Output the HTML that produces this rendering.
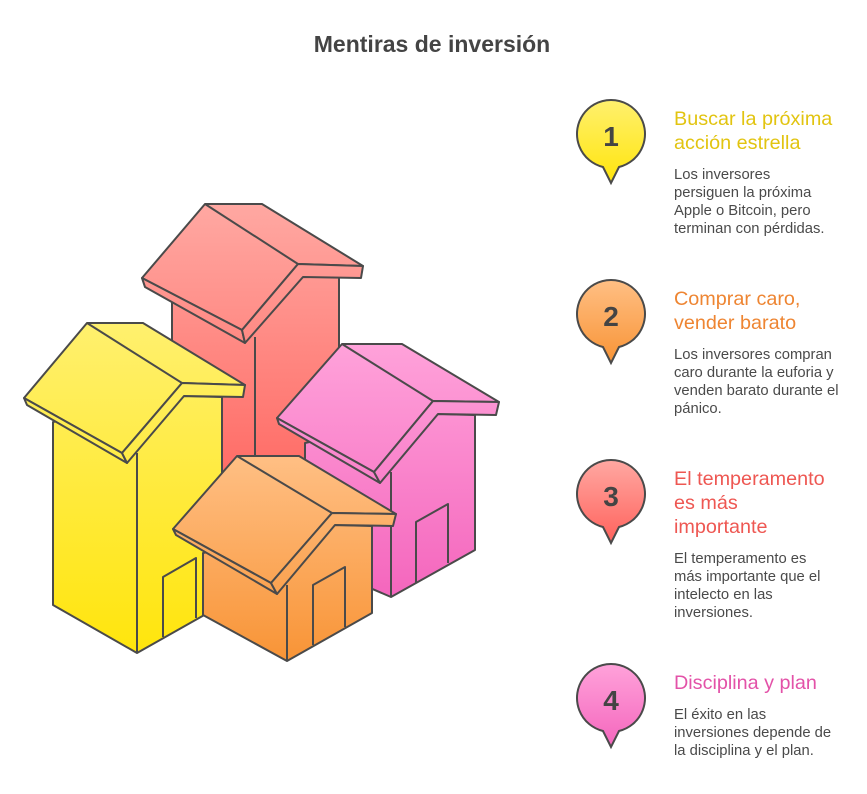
<!DOCTYPE html>
<html><head><meta charset="utf-8"><style>
body{margin:0;background:#fff;width:867px;height:789px;overflow:hidden;font-family:"Liberation Sans",sans-serif}
</style></head><body>
<svg width="867" height="789" viewBox="0 0 867 789" xmlns="http://www.w3.org/2000/svg">
<defs>
<linearGradient id="gy" gradientUnits="userSpaceOnUse" x1="0" y1="323" x2="0" y2="653"><stop offset="0" stop-color="#fff06e"/><stop offset="1" stop-color="#ffe50c"/></linearGradient>
<linearGradient id="gr" gradientUnits="userSpaceOnUse" x1="0" y1="204" x2="0" y2="520"><stop offset="0" stop-color="#ffa8a2"/><stop offset="1" stop-color="#ff625c"/></linearGradient>
<linearGradient id="gp" gradientUnits="userSpaceOnUse" x1="0" y1="344" x2="0" y2="597"><stop offset="0" stop-color="#ffa2da"/><stop offset="1" stop-color="#f466bd"/></linearGradient>
<linearGradient id="go" gradientUnits="userSpaceOnUse" x1="0" y1="456" x2="0" y2="661"><stop offset="0" stop-color="#ffbf84"/><stop offset="1" stop-color="#f89436"/></linearGradient>
<linearGradient id="my" x1="0" y1="0" x2="0" y2="1"><stop offset="0" stop-color="#fff06e"/><stop offset="1" stop-color="#ffe50c"/></linearGradient>
<linearGradient id="mr" x1="0" y1="0" x2="0" y2="1"><stop offset="0" stop-color="#ffa8a2"/><stop offset="1" stop-color="#ff625c"/></linearGradient>
<linearGradient id="mp" x1="0" y1="0" x2="0" y2="1"><stop offset="0" stop-color="#ffa2da"/><stop offset="1" stop-color="#f466bd"/></linearGradient>
<linearGradient id="mo" x1="0" y1="0" x2="0" y2="1"><stop offset="0" stop-color="#ffbf84"/><stop offset="1" stop-color="#f89436"/></linearGradient>
</defs>
<text x="432" y="52" text-anchor="middle" font-size="23" font-weight="bold" fill="#444">Mentiras de inversión</text>
<g stroke="#4a4a4a" stroke-width="2" stroke-linejoin="round">
<g fill="url(#gr)">
<polygon points="172,302 172,520 255,560 339,520 339,277 303,277"/>
<line x1="255" y1="337" x2="255" y2="540"/>
<polygon points="142,278 205,204 262,204 363,266 298,264 242,330"/>
<line x1="205" y1="204" x2="298" y2="264"/>
<polygon points="142,278 242,330 245,343 145,287"/>
<polygon points="298,264 363,266 361,278 303,277 245,343 242,330"/>
</g>
<g fill="url(#gy)">
<polygon points="53,422 53,605 137,653 222,605 222,397 184,396"/>
<line x1="137" y1="453" x2="137" y2="653"/>
<polyline points="163,637 163,577 196,558 196,618" fill="none"/>
<polygon points="24,398 87,323 143,323 245,385 182,383 122,453"/>
<line x1="87" y1="323" x2="182" y2="383"/>
<polygon points="24,398 122,453 127,463 27,405"/>
<polygon points="182,383 245,385 243,397 184,396 127,463 122,453"/>
</g>
<g fill="url(#gp)">
<polygon points="305,443 305,560 391,597 475,550 475,415 438,414"/>
<line x1="391" y1="472" x2="391" y2="597"/>
<polyline points="416,583 416,522 448,504 448,563" fill="none"/>
<polygon points="277,418 342,344 402,344 499,402 433,401 374,472"/>
<line x1="342" y1="344" x2="433" y2="401"/>
<polygon points="277,418 374,472 380,483 279,424"/>
<polygon points="433,401 499,402 496,415 438,414 380,483 374,472"/>
</g>
<g fill="url(#go)">
<polygon points="203,553 203,615 287,661 372,613 372,526 335,525"/>
<line x1="287" y1="585" x2="287" y2="661"/>
<polyline points="313,645 313,585 345,567 345,627" fill="none"/>
<polygon points="173,529 237,456 299,456 396,514 332,513 271,583"/>
<line x1="237" y1="456" x2="332" y2="513"/>
<polygon points="173,529 271,583 277,594 176,535"/>
<polygon points="332,513 396,514 393,526 335,525 277,594 271,583"/>
</g>
</g>
<g stroke="#4a4a4a" stroke-width="2">
<path d="M603,167 A34,34 0 1 1 619,167 L611,183 Z" fill="url(#my)"/>
<path d="M603,347 A34,34 0 1 1 619,347 L611,363 Z" fill="url(#mo)"/>
<path d="M603,527 A34,34 0 1 1 619,527 L611,543 Z" fill="url(#mr)"/>
<path d="M603,731 A34,34 0 1 1 619,731 L611,747 Z" fill="url(#mp)"/>
</g>
<g font-size="28" font-weight="bold" fill="#444" text-anchor="middle">
<text x="611" y="146">1</text><text x="611" y="326">2</text><text x="611" y="506">3</text><text x="611" y="710">4</text>
</g>
<g font-size="19.8">
<text x="674" y="125" fill="#e2c410">Buscar la próxima</text>
<text x="674" y="149" fill="#e2c410">acción estrella</text>
<text x="674" y="305" fill="#ee8532">Comprar caro,</text>
<text x="674" y="329" fill="#ee8532">vender barato</text>
<text x="674" y="485" fill="#ee5752">El temperamento</text>
<text x="674" y="509" fill="#ee5752">es más</text>
<text x="674" y="533" fill="#ee5752">importante</text>
<text x="674" y="689" fill="#e352a8">Disciplina y plan</text>
</g>
<g font-size="14.8" fill="#4a4a4a">
<text x="674" y="179">Los inversores</text>
<text x="674" y="197">persiguen la próxima</text>
<text x="674" y="215">Apple o Bitcoin, pero</text>
<text x="674" y="233">terminan con pérdidas.</text>
<text x="674" y="359">Los inversores compran</text>
<text x="674" y="377">caro durante la euforia y</text>
<text x="674" y="395">venden barato durante el</text>
<text x="674" y="413">pánico.</text>
<text x="674" y="563">El temperamento es</text>
<text x="674" y="581">más importante que el</text>
<text x="674" y="599">intelecto en las</text>
<text x="674" y="617">inversiones.</text>
<text x="674" y="719">El éxito en las</text>
<text x="674" y="737">inversiones depende de</text>
<text x="674" y="755">la disciplina y el plan.</text>
</g>
</svg>
</body></html>
